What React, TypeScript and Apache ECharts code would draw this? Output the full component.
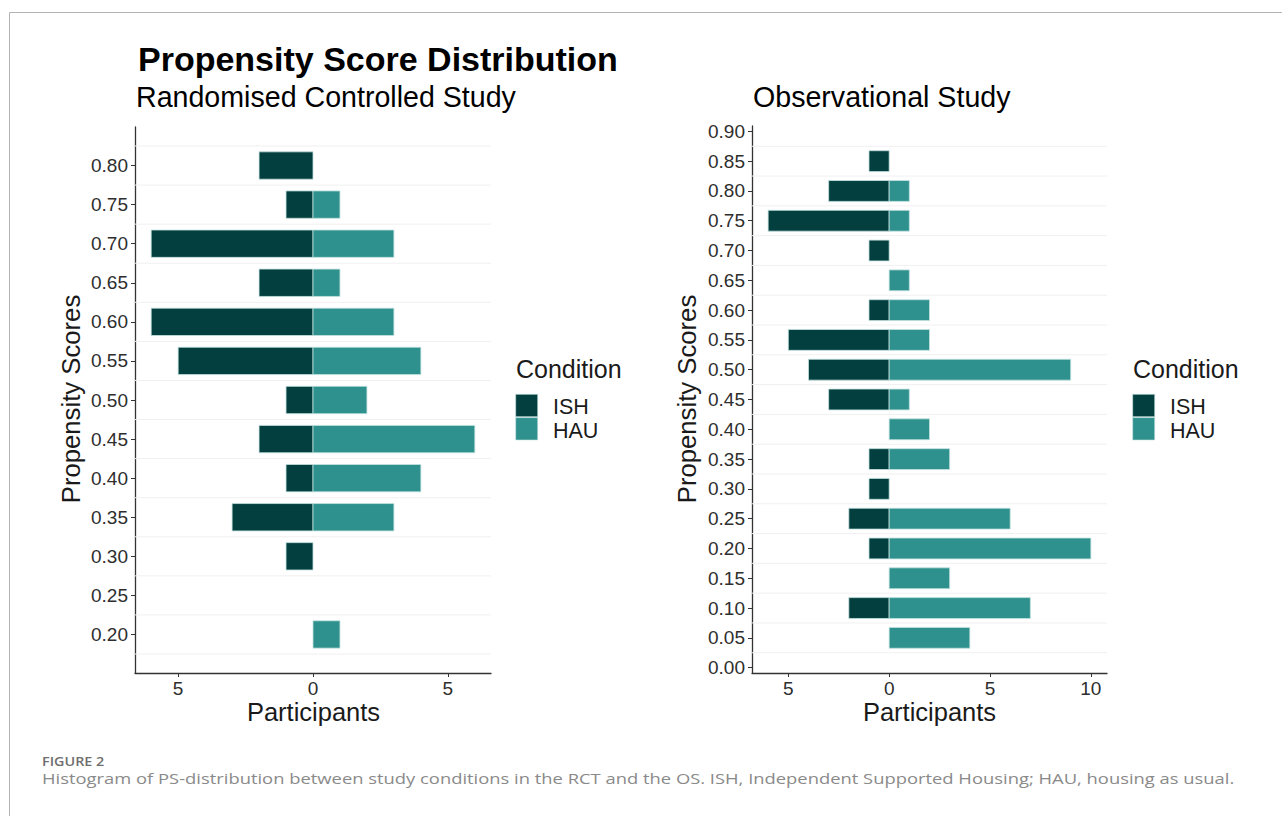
import React, { useEffect, useRef } from "react";
import * as echarts from "echarts";

// ---------- data ----------
const conditions = ["ISH", "HAU"];

// Randomised Controlled Study
const rctScores = [0.8, 0.75, 0.7, 0.65, 0.6, 0.55, 0.5, 0.45, 0.4, 0.35, 0.3, 0.25, 0.2];
const rctISH = [2, 1, 6, 2, 6, 5, 1, 2, 1, 3, 1, 0, 0];
const rctHAU = [0, 1, 3, 1, 3, 4, 2, 6, 4, 3, 0, 0, 1];
const rctYTicks = [0.2, 0.25, 0.3, 0.35, 0.4, 0.45, 0.5, 0.55, 0.6, 0.65, 0.7, 0.75, 0.8];
const rctXTicks = [-5, 0, 5];

// Observational Study
const osScores = [0.85, 0.8, 0.75, 0.7, 0.65, 0.6, 0.55, 0.5, 0.45, 0.4, 0.35, 0.3, 0.25, 0.2, 0.15, 0.1, 0.05];
const osISH = [1, 3, 6, 1, 0, 1, 5, 4, 3, 0, 1, 1, 2, 1, 0, 2, 0];
const osHAU = [0, 1, 1, 0, 1, 2, 2, 9, 1, 2, 3, 0, 6, 10, 3, 7, 4];
const osYTicks = [0, 0.05, 0.1, 0.15, 0.2, 0.25, 0.3, 0.35, 0.4, 0.45, 0.5, 0.55, 0.6, 0.65, 0.7, 0.75, 0.8, 0.85, 0.9];
const osXTicks = [-5, 0, 5, 10];

const binWidth = 0.05;
const barFraction = 0.7;

// ---------- styles ----------
const ISH_COLOR = "#033f3f";
const HAU_COLOR = "#2e918d";
const BAR_STROKE = "#c4e2e0";
const FONT = "Liberation Sans, Arial, Helvetica, sans-serif";
const AXIS_COLOR = "#333333";
const LABEL_COLOR = "#2e2e2e";

function barSeries(name: string, scores: number[], counts: number[], sign: number, idx: number, color: string) {
  const half = (binWidth * barFraction) / 2;
  return {
    type: "custom",
    name,
    xAxisIndex: idx,
    yAxisIndex: idx,
    z: 3,
    encode: { x: 0, y: 1 },
    data: scores.map((s, i) => [sign * counts[i], s]),
    renderItem: (params: any, api: any) => {
      const xv = api.value(0);
      const yv = api.value(1);
      if (!xv) return null;
      const p1 = api.coord([xv, yv + half]);
      const p2 = api.coord([0, yv - half]);
      return {
        type: "rect",
        shape: {
          x: Math.min(p1[0], p2[0]),
          y: Math.min(p1[1], p2[1]),
          width: Math.abs(p2[0] - p1[0]),
          height: Math.abs(p2[1] - p1[1]),
        },
        style: { fill: color, stroke: BAR_STROKE, lineWidth: 0.8 },
      };
    },
  };
}

function gridSeries(scores: number[], idx: number) {
  // faint lines at histogram bin edges
  const edges = Array.from(new Set(scores.flatMap((s) => [+(s - binWidth / 2).toFixed(4), +(s + binWidth / 2).toFixed(4)])));
  return {
    type: "custom",
    xAxisIndex: idx,
    yAxisIndex: idx,
    z: 1,
    silent: true,
    encode: { x: 0, y: 1 },
    data: edges.map((e) => [0, e]),
    renderItem: (params: any, api: any) => {
      const c = api.coord([0, api.value(1)]);
      const cs = params.coordSys;
      return {
        type: "line",
        shape: { x1: cs.x, y1: c[1], x2: cs.x + cs.width, y2: c[1] },
        style: { stroke: "#f0f0f0", lineWidth: 1 },
      };
    },
  };
}

const tickLabelStyle = {
  fontSize: 19,
  fontFamily: FONT,
  color: LABEL_COLOR,
};

function xAxisCfg(idx: number, min: number, max: number, ticks: number[]) {
  return {
    type: "value",
    gridIndex: idx,
    min,
    max,
    axisLine: { show: true, onZero: false, lineStyle: { color: AXIS_COLOR, width: 1.3 } },
    axisTick: { show: true, length: 4, customValues: ticks, lineStyle: { color: AXIS_COLOR, width: 1 } },
    axisLabel: {
      customValues: ticks,
      formatter: (v: number) => String(Math.abs(v)),
      ...tickLabelStyle,
      margin: 6,
    },
    splitLine: { show: false },
  };
}

function yAxisCfg(idx: number, min: number, max: number, ticks: number[]) {
  return {
    type: "value",
    gridIndex: idx,
    min,
    max,
    axisLine: { show: true, onZero: false, lineStyle: { color: AXIS_COLOR, width: 1.3 } },
    axisTick: { show: true, length: 4, customValues: ticks, lineStyle: { color: AXIS_COLOR, width: 1 } },
    axisLabel: {
      customValues: ticks,
      formatter: (v: number) => v.toFixed(2),
      ...tickLabelStyle,
      margin: 7,
    },
    splitLine: { show: false },
  };
}

function txt(text: string, x: number, y: number, size: number, opts: any = {}) {
  return {
    type: "text",
    x,
    y,
    rotation: opts.rotation || 0,
    scaleX: opts.scaleX || 1,
    silent: true,
    style: {
      text,
      fontSize: size,
      fontFamily: opts.family || FONT,
      fontWeight: opts.weight || "normal",
      fill: opts.color || "#000000",
      align: opts.align || "left",
      verticalAlign: "middle",
    },
  };
}

function legend(x: number, textX: number) {
  return [
    txt("Condition", x, 369, 25, { color: "#1a1a1a" }),
    { type: "rect", silent: true, shape: { x: x - 0.3, y: 394.3, width: 22, height: 22.4 }, style: { fill: ISH_COLOR, stroke: BAR_STROKE, lineWidth: 0.6 } },
    { type: "rect", silent: true, shape: { x: x - 0.3, y: 417.6, width: 22, height: 22.4 }, style: { fill: HAU_COLOR, stroke: BAR_STROKE, lineWidth: 0.6 } },
    txt(conditions[0], textX, 407, 21.5, { color: "#1a1a1a" }),
    txt(conditions[1], textX, 431, 21.5, { color: "#1a1a1a" }),
  ];
}

export default function App() {
  const ref = useRef<HTMLDivElement>(null);

  useEffect(() => {
    document.body.style.margin = "0";
    document.body.style.overflow = "hidden";
    if (!ref.current) return;
    const chart = echarts.init(ref.current, null, { renderer: "svg" });

    const option: any = {
      animation: false,
      backgroundColor: "#ffffff",
      textStyle: { fontFamily: FONT },
      grid: [
        { left: 135, top: 127, width: 356, height: 546 },
        { left: 752, top: 126, width: 355, height: 547 },
      ],
      xAxis: [xAxisCfg(0, -6.6, 6.6, rctXTicks), xAxisCfg(1, -6.8, 10.8, osXTicks)],
      yAxis: [yAxisCfg(0, 0.1507, 0.8493, rctYTicks), yAxisCfg(1, -0.009, 0.909, osYTicks)],
      series: [
        gridSeries(rctScores, 0),
        gridSeries(osScores, 1),
        barSeries(conditions[0], rctScores, rctISH, -1, 0, ISH_COLOR),
        barSeries(conditions[1], rctScores, rctHAU, 1, 0, HAU_COLOR),
        barSeries(conditions[0], osScores, osISH, -1, 1, ISH_COLOR),
        barSeries(conditions[1], osScores, osHAU, 1, 1, HAU_COLOR),
      ],
      graphic: [
        // frame
        { type: "line", silent: true, shape: { x1: 9.5, y1: 12.5, x2: 1282, y2: 12.5 }, style: { stroke: "#b3b3b3", lineWidth: 1 } },
        { type: "line", silent: true, shape: { x1: 9.5, y1: 12.5, x2: 9.5, y2: 816 }, style: { stroke: "#b3b3b3", lineWidth: 1 } },
        // titles
        txt("Propensity Score Distribution", 138, 59, 34, { weight: "bold" }),
        txt("Randomised Controlled Study", 136, 97, 28.6),
        txt("Observational Study", 753, 97, 28.6),
        // axis titles
        txt("Participants", 313.5, 712, 25.5, { align: "center", color: "#1a1a1a" }),
        txt("Participants", 929.5, 712, 25.5, { align: "center", color: "#1a1a1a" }),
        txt("Propensity Scores", 71, 399, 25.7, { align: "center", rotation: Math.PI / 2, color: "#1a1a1a" }),
        txt("Propensity Scores", 687, 399, 25.7, { align: "center", rotation: Math.PI / 2, color: "#1a1a1a" }),
        // legends
        ...legend(516, 553),
        ...legend(1133, 1170),
        // caption
        txt("FIGURE 2", 42, 761.5, 12.5, { family: "Open Sans, sans-serif", weight: 600, color: "#6e6e6e", scaleX: 1.15 }),
        txt(
          "Histogram of PS-distribution between study conditions in the RCT and the OS. ISH, Independent Supported Housing; HAU, housing as usual.",
          42,
          779,
          14,
          { family: "Open Sans, sans-serif", color: "#8a8a8a", scaleX: 1.314 }
        ),
      ],
    };

    chart.setOption(option);
    return () => chart.dispose();
  }, []);

  return <div ref={ref} style={{ width: 1282, height: 816 }} />;
}
